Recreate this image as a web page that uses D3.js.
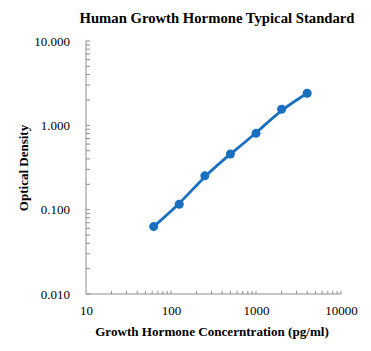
<!DOCTYPE html>
<html>
<head>
<meta charset="utf-8">
<script src="https://cdn.jsdelivr.net/npm/d3@7"></script>
<style>
  body { margin: 0; background: #fff; }
  text { font-family: "Liberation Serif", "Times New Roman", serif; }
</style>
</head>
<body>
<div id="chart"></div>
<script>
// standard curve readings
const concentration = [62.5, 125, 250, 500, 1000, 2000, 4000];
const opticalDensity = [0.063, 0.116, 0.252, 0.457, 0.804, 1.549, 2.40];
const xTickValues = [10, 100, 1000, 10000];
const yTickValues = [0.01, 0.1, 1, 10];

const W = 371, H = 351;
const margin = { top: 41, right: 30, bottom: 57, left: 86 };
const width = 341 - margin.left;
const height = 294 - margin.top;

const svg = d3.select("#chart").append("svg")
    .attr("width", W)
    .attr("height", H);

const g = svg.append("g")
    .attr("transform", `translate(${margin.left}, ${margin.top})`);

const x = d3.scaleLog().domain([10, 10000]).range([0, width]);
const y = d3.scaleLog().domain([0.01, 10]).range([height, 0]);

// minor ticks (2..9 in each decade), drawn inside the plot
const minorX = [];
const minorY = [];
[10, 100, 1000].forEach(d => { for (let k = 2; k <= 10; k++) minorX.push(d * k); });
[0.01, 0.1, 1].forEach(d => { for (let k = 2; k <= 10; k++) minorY.push(d * k); });

g.selectAll(".xminor")
    .data(minorX)
    .join("line")
    .attr("x1", d => x(d))
    .attr("x2", d => x(d))
    .attr("y1", height)
    .attr("y2", height - 3)
    .attr("stroke", "#8c8c8c")
    .attr("stroke-width", 1);

g.selectAll(".yminor")
    .data(minorY.concat([0.01]))
    .join("line")
    .attr("x1", 0)
    .attr("x2", 4)
    .attr("y1", d => y(d))
    .attr("y2", d => y(d))
    .attr("stroke", "#8c8c8c")
    .attr("stroke-width", 1);

// axis lines
g.append("line")
    .attr("x1", 0).attr("x2", 0)
    .attr("y1", 0).attr("y2", height)
    .attr("stroke", "#8c8c8c");
g.append("line")
    .attr("x1", 0).attr("x2", width)
    .attr("y1", height).attr("y2", height)
    .attr("stroke", "#8c8c8c");

// tick labels
g.append("g")
    .attr("transform", `translate(0, ${height})`)
    .call(d3.axisBottom(x)
        .tickValues(xTickValues)
        .tickFormat(d3.format("d"))
        .tickSize(0)
        .tickPadding(12))
    .call(a => a.select(".domain").remove())
    .selectAll("text")
    .style("font-family", "'Liberation Serif', serif")
    .style("font-size", "13px")
    .style("fill", "#000");

g.append("g")
    .call(d3.axisLeft(y)
        .tickValues(yTickValues)
        .tickFormat(d3.format(".3f"))
        .tickSize(0)
        .tickPadding(16))
    .call(a => a.select(".domain").remove())
    .selectAll("text")
    .style("font-family", "'Liberation Serif', serif")
    .style("font-size", "13px")
    .style("fill", "#000");

// fitted curve
const line = d3.line()
    .x((d, i) => x(concentration[i]))
    .y(d => y(d))
    .curve(d3.curveBasis);

g.append("path")
    .datum(opticalDensity)
    .attr("fill", "none")
    .attr("stroke", "#1a70c0")
    .attr("stroke-width", 2.8)
    .attr("d", line);

g.selectAll(".pt")
    .data(opticalDensity)
    .join("circle")
    .attr("cx", (d, i) => x(concentration[i]))
    .attr("cy", d => y(d))
    .attr("r", 4.5)
    .attr("fill", "#1a70c0");

// titles
svg.append("text")
    .attr("x", 217)
    .attr("y", 23)
    .attr("text-anchor", "middle")
    .style("font-size", "14.7px")
    .style("font-weight", "bold")
    .text("Human Growth Hormone Typical Standard");

svg.append("text")
    .attr("x", 212)
    .attr("y", 336)
    .attr("text-anchor", "middle")
    .style("font-size", "13.1px")
    .style("font-weight", "bold")
    .text("Growth Hormone Concerntration (pg/ml)");

svg.append("text")
    .attr("transform", "translate(28, 168) rotate(-90)")
    .attr("text-anchor", "middle")
    .style("font-size", "13px")
    .style("font-weight", "bold")
    .text("Optical Density");
</script>
</body>
</html>
